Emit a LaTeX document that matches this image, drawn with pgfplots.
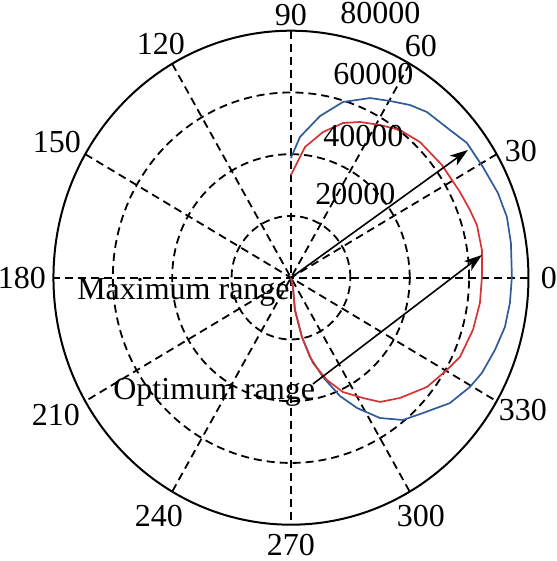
\documentclass[border=0pt]{standalone}
\usepackage{pgfplots}
\pgfplotsset{compat=1.18}
\usepackage{fontspec}
\setmainfont{Liberation Serif}
\usetikzlibrary{arrows.meta}

\definecolor{maxblue}{RGB}{47,91,154}
\definecolor{optred}{RGB}{214,52,52}

% range curves, (angle in degrees, range)
\pgfplotstableread{
theta r
-82 0
-77.4 3090
-82.7 10550
-79.1 19560
-76.0 26470
-71.5 33920
-66.7 41720
-62.2 47700
-56.6 54440
-50.7 59560
-44.6 62430
-37.2 67190
-30.4 69910
-25.6 71350
-18.8 72590
-12.5 73820
-6.3 74210
0.2 74430
8.6 74940
15.1 75360
21.5 74920
29.0 73940
36.4 73600
41.8 71810
49.5 70560
54.4 68810
59.8 66240
65.4 64000
72.9 59540
79.4 53280
86.2 45670
90 38770
}\maxrange

\pgfplotstableread{
theta r
-82 0
-77.4 3090
-82.7 10550
-79.1 19560
-75.0 28600
-69.9 35280
-64.7 40960
-58.1 45890
-53.3 50190
-46.7 53540
-37.7 57890
-29.6 60450
-24.3 62450
-15.4 63600
-7.3 64180
0.2 64330
7.9 64950
15.2 64930
20.0 64150
26.0 63330
35.7 62600
45.3 61800
52.5 60300
58.8 57830
65.3 55530
70.7 53080
77.1 48410
83.6 42600
90 33270
}\optrange

\begin{document}
\begin{tikzpicture}[font=\fontsize{16}{19}\selectfont,
  polargrid/.style={black, line width=0.9pt, dash pattern=on 4pt off 2.5pt}]
\begin{axis}[
  scale only axis, width=237.5pt, height=247pt,
  xmin=-80000, xmax=80000, ymin=-80000, ymax=80000,
  axis lines=none, clip=false,
]
  % polar grid
  \draw[polargrid] (axis cs:0,0) ellipse [x radius=20000, y radius=20000];
  \draw[polargrid] (axis cs:0,0) ellipse [x radius=40000, y radius=40000];
  \draw[polargrid] (axis cs:0,0) ellipse [x radius=60000, y radius=60000];
  \pgfplotsinvokeforeach{0,30,...,150}{
    \draw[polargrid] (axis cs:{80000*cos(#1)},{80000*sin(#1)}) -- (axis cs:{-80000*cos(#1)},{-80000*sin(#1)});
  }
  \draw[black, line width=1pt] (axis cs:0,0) ellipse [x radius=80000, y radius=80000];

  \addplot[maxblue, line width=0.85pt, data cs=polar] table[x=theta, y=r] {\maxrange};
  \addplot[optred, line width=0.85pt, data cs=polar] table[x=theta, y=r] {\optrange};

  % angle labels
  \node at (axis cs:0,85100) {90};
  \node at (axis cs:43784,75050) {60};
  \node at (axis cs:77464,41040) {30};
  \node at (axis cs:86900,0) {0};
  \node at (axis cs:78138,-42877) {330};
  \node at (axis cs:43784,-77185) {300};
  \node[inner sep=0pt] at (axis cs:0,-86600) {270};
  \node at (axis cs:-44458,-77185) {240};
  \node at (axis cs:-79148,-44470) {210};
  \node at (axis cs:-90599,0) {180};
  \node at (axis cs:-78811,43954) {150};
  \node at (axis cs:-43784,75698) {120};

  % range labels
  \node[anchor=west, inner sep=0pt] at (axis cs:8083,26948) {20000};
  \node[anchor=west, inner sep=0pt] at (axis cs:10778,45896) {40000};
  \node[anchor=west, inner sep=0pt] at (axis cs:14146,65978) {60000};
  \node[anchor=west, inner sep=0pt] at (axis cs:16503,85736) {80000};

  % annotations
  \node[anchor=base east, inner sep=0pt] at (axis cs:-300,-7220) {Maximum range};
  \node[anchor=base west, inner sep=0pt] at (axis cs:-59950,-39613) {Optimum range};
  \draw[line width=0.8pt, -{Stealth[length=9pt, width=6pt, inset=2.5pt]}]
    (axis cs:0,0) -- (axis cs:59614,41362);
  \draw[line width=0.8pt, -{Stealth[length=9pt, width=6pt, inset=2.5pt]}]
    (axis cs:7410,-34431) -- (axis cs:64329,7353);

  \coordinate (bl) at (axis cs:-98009,-91761);
  \coordinate (tr) at (axis cs:89589,89947);
\end{axis}
\pgfresetboundingbox
\path[use as bounding box] (bl) rectangle (tr);
\end{tikzpicture}
\end{document}
